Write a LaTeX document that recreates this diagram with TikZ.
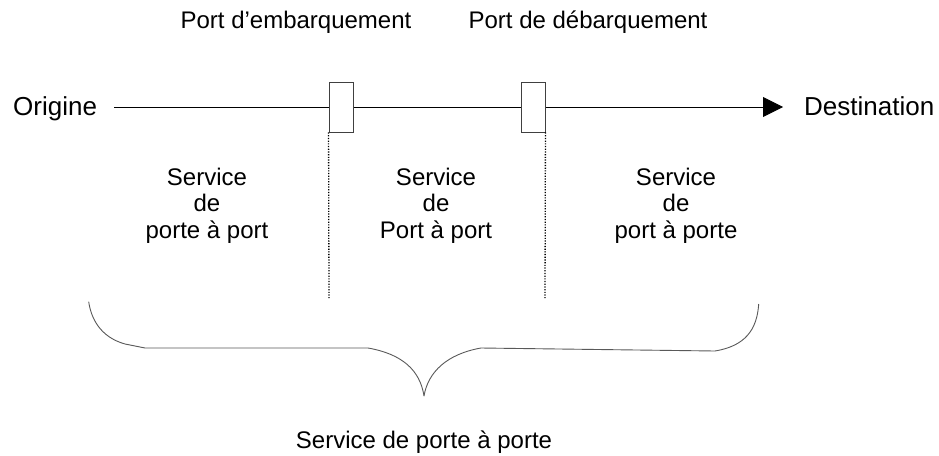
\documentclass[tikz,border=0pt]{standalone}
\usepackage{fontspec}
\setmainfont{Liberation Sans}
\usetikzlibrary{arrows.meta}
\tikzset{
  lbl/.style={inner sep=0pt, font=\fontsize{24}{26.5}\selectfont},
  endlbl/.style={inner sep=0pt, font=\fontsize{26}{28}\selectfont, text height=18pt, text depth=2pt},
  svc/.style={lbl, align=center, anchor=north},
  portbox/.style={draw=black!75, line width=0.9pt, fill=white, minimum width=24pt, minimum height=50pt, inner sep=0pt},
  mainline/.style={line width=0.9pt, -{Triangle[length=20pt,width=20pt]}},
  sep/.style={line width=1.3pt, dash pattern=on 1.2pt off 1.5pt},
  bracestyle/.style={line width=0.9pt, draw=black!65, line join=round}
}
\begin{document}
\begin{tikzpicture}[x=1pt,y=-1pt]
\useasboundingbox (0,0) rectangle (939,455);
\node[endlbl, anchor=west] (orig) at (13,107) {Origine};
\node[endlbl, anchor=west] (dest) at (804,107) {Destination};
\draw[mainline, shorten <=17pt, shorten >=21pt] (orig.east) -- (dest.west);
\node[portbox] (p1) at (341,107) {};
\node[portbox] (p2) at (533,107) {};
\node[lbl, anchor=base] (l1) at (296,28) {Port d’embarquement};
\node[lbl, anchor=base] (l2) at (588,28) {Port de débarquement};
\coordinate (d1) at (329,298);
\coordinate (d2) at (545,298);
\draw[sep] (p1.south west) -- (d1);
\draw[sep] (p2.south east) -- (d2);
\node[svc] (s1) at (207,167.5) {Service\\de\\porte à port};
\node[svc] (s2) at (436,167.5) {Service\\de\\Port à port};
\node[svc] (s3) at (676,167.5) {Service\\de\\port à porte};
\draw[bracestyle] (88.7,301.7) .. controls (91,318) and (100,337) .. (125,344) -- (145,348) -- (368,348)
  .. controls (402,354) and (420,370) .. (424,396)
  .. controls (428,372) and (447,354) .. (481,348)
  -- (715,351) .. controls (745,346) and (757,330) .. (758.7,304);
\node[lbl, anchor=base] (tot) at (424,448) {Service de porte à porte};
\end{tikzpicture}
\end{document}
